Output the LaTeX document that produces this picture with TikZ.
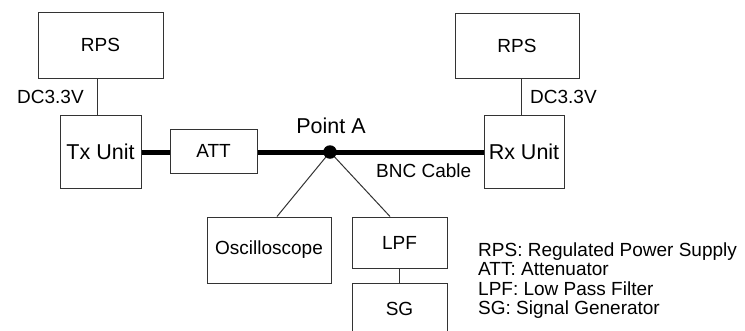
\documentclass[tikz,border=0pt]{standalone}
\usepackage{fontspec}
\setmainfont{Liberation Sans}
\begin{document}
\begin{tikzpicture}[x=1pt,y=-1pt,
  box/.style={draw=black!80,line width=1pt,rectangle,inner sep=0pt,font=\fontsize{19}{23}\selectfont},
  big/.style={font=\fontsize{21.5}{25}\selectfont},
  lbl/.style={inner sep=0pt,anchor=base west,font=\fontsize{19}{23}\selectfont},
  thin/.style={draw=black!80,line width=1pt},
  thick/.style={draw=black,line width=5pt},
  dot/.style={circle,fill=black,minimum size=13.5pt,inner sep=0pt}]
\useasboundingbox (0,0) rectangle (745,330);
\node[box,minimum width=125pt,minimum height=66pt] (rpsL) at (100.5,45) {RPS};
\node[box,big,minimum width=81pt,minimum height=73pt] (tx) at (100.5,151.5) {Tx Unit};
\node[box,minimum width=87pt,minimum height=44pt] (att) at (213.5,151) {ATT};
\node[box,minimum width=124pt,minimum height=65pt] (rpsR) at (517,45.5) {RPS};
\node[box,big,minimum width=80pt,minimum height=73pt] (rx) at (524,151.5) {Rx Unit};
\node[box,minimum width=124pt,minimum height=66pt] (osc) at (269,250) {Oscilloscope};
\node[box,minimum width=95pt,minimum height=51pt] (lpf) at (399.5,242.5) {LPF};
\node[box,minimum width=95pt,minimum height=52pt] (sg) at (399.5,309) {SG};
\coordinate (A) at (330,152);
% connectors
\draw[thin] ([xshift=-3.5pt]rpsL.south) -- ([xshift=-3.5pt]tx.north);
\draw[thin] ([xshift=4pt]rpsR.south) -- ([xshift=-3pt]rx.north);
\draw[thin] (lpf.south) -- (sg.north);
\draw[thin] (A) -- ([xshift=8pt]osc.north);
\draw[thin] (A) -- ([xshift=-9.5pt]lpf.north);
\draw[thick] (tx.east |- A) -- (att.west |- A);
\draw[thick] (att.east |- A) -- (A) -- (rx.west |- A);
\node[dot] (Adot) at (A) {};
% labels
\node[lbl] (dcL) at (17,103) {DC3.3V};
\node[lbl] (dcR) at (530,103) {DC3.3V};
\node[lbl,big,anchor=base] (pa) at (331,133) {Point A};
\node[lbl] (bnc) at (376,177) {BNC Cable};
\node[lbl] (l1) at (478,256) {RPS: Regulated Power Supply};
\node[lbl] (l2) at (478,275.5) {ATT: Attenuator};
\node[lbl] (l3) at (478,295) {LPF: Low Pass Filter};
\node[lbl] (l4) at (478,314.5) {SG: Signal Generator};
\end{tikzpicture}
\end{document}
